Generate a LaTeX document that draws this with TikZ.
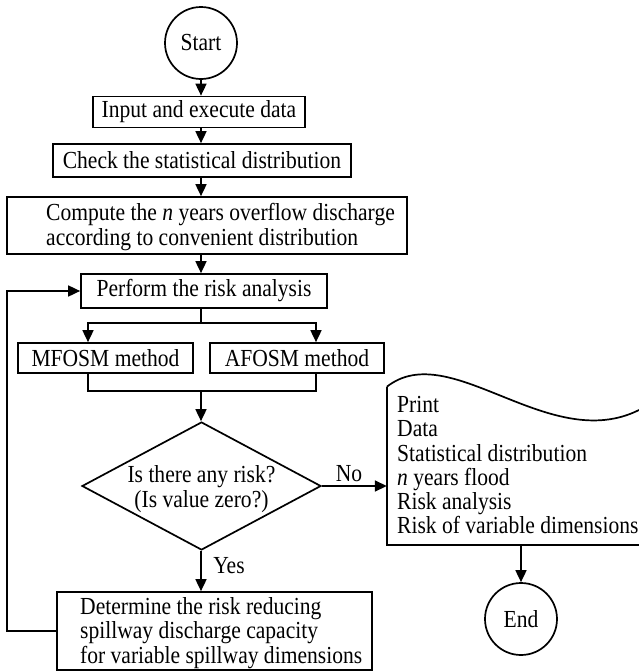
\documentclass[tikz,border=0pt]{standalone}
\usepackage{fontspec}
\setmainfont[FakeStretch=0.88]{Liberation Serif}
\usetikzlibrary{shapes.geometric,arrows.meta}
\begin{document}
\begin{tikzpicture}[x=1pt,y=-1pt,
  every node/.style={font=\fontsize{24.5}{24.5}\selectfont},
  box/.style={draw, line width=1.7pt, inner sep=0pt},
  conn/.style={line width=1.7pt},
  arr/.style={conn, -{Triangle[length=12pt,width=11pt]}},
  circ/.style={draw, circle, line width=1.7pt, minimum size=72pt, inner sep=0pt},
  txt/.style={anchor=west, align=left, inner sep=0pt}
]
\useasboundingbox (0,0) rectangle (639,672);
\coordinate (ax) at (201,0);
% nodes
\node[circ] (start) at (201,43) {Start};
\node[box, minimum width=212pt, minimum height=31pt] (input) at (199,112) {Input and execute data};
\node[box, minimum width=298pt, minimum height=33pt] (check) at (202,160.5) {Check the statistical distribution};
\node[box, minimum width=400pt, minimum height=57pt] (compute) at (207,225.5) {};
\node[txt] (computetext) at (46,227) {Compute the \textit{n} years overflow discharge\\according to convenient distribution};
\node[box, minimum width=246pt, minimum height=34pt] (perform) at (204,291) {Perform the risk analysis};
\node[box, minimum width=175pt, minimum height=30pt] (mfosm) at (105.5,358) {MFOSM method};
\node[box, minimum width=174pt, minimum height=30pt] (afosm) at (297,358) {AFOSM method};
\node[draw, diamond, line width=1.7pt, minimum width=239pt, minimum height=128pt, inner sep=0pt] (dec) at (201.5,486) {};
\node[align=center, inner sep=0pt] (dectext) at (201.5,489) {Is there any risk?\\(Is value zero?)};
\node (no) at (349,474) {No};
\node (yes) at (229,566) {Yes};
\node[box, minimum width=315pt, minimum height=78pt] (det) at (214.5,631) {};
\node[txt] (dettext) at (80,633) {Determine the risk reducing\\spillway discharge capacity\\for variable spillway dimensions};
\node[minimum width=252pt, minimum height=158pt, inner sep=0pt] (print) at (513,466) {};
\draw[conn] (print.north west) .. controls (450,337) and (549,455) .. (639,410);
\draw[conn] (print.north west) -- (print.south west) -- (print.south east);
\node[anchor=north west, align=left, inner sep=0pt, font=\fontsize{24.5}{24.3}\selectfont] (printtext) at (397,396) {Print\\Data\\Statistical distribution\\\textit{n} years flood\\Risk analysis\\Risk of variable dimensions};
\node[circ] (end) at (521,619) {End};
% connectors
\coordinate (split) at (201,323);
\coordinate (merge) at (201,391);
\draw[arr] (ax |- start.south) -- (ax |- input.north);
\draw[arr] (ax |- input.south) -- (ax |- check.north);
\draw[arr] (ax |- check.south) -- (ax |- compute.north);
\draw[arr] (ax |- compute.south) -- (ax |- perform.north);
\draw[conn] (ax |- perform.south) -- (split);
\draw[arr] (split) -| ([xshift=-17.5pt]mfosm.north);
\draw[arr] (split) -| ([xshift=19pt]afosm.north);
\draw[conn] ([xshift=-17.5pt]mfosm.south) |- (merge) -| ([xshift=19pt]afosm.south);
\draw[arr] (merge) -- (ax |- dec.north);
\draw[arr] (dec.east) -- (print.west |- dec.east);
\draw[arr] (ax |- dec.south) -- (ax |- det.north);
\draw[arr] (end |- print.south) -- (end.north);
\draw[arr] (det.west) -- (7,631) |- (perform.west);
\end{tikzpicture}
\end{document}
